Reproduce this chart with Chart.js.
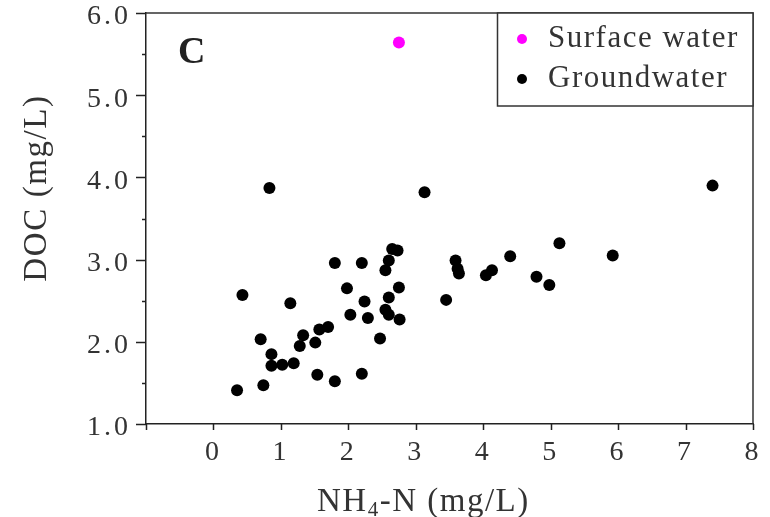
<!DOCTYPE html>
<html>
<head>
<meta charset="utf-8">
<script src="https://cdn.jsdelivr.net/npm/chart.js@4.4.1/dist/chart.umd.min.js"></script>
<style>
  html, body { margin: 0; padding: 0; background: #fff; }
  #c { display: block; }
</style>
</head>
<body>
<canvas id="c" width="770" height="517"></canvas>
<script>
// ─── DATOS ────────────────────────────────────────────────────────────────
const surfaceNH4 = [2.75];
const surfaceDOC = [5.64];

const groundNH4 = [
  0.83, 3.13, 0.43, 1.14, 1.80, 2.20, 2.65, 2.73, 2.60, 2.55,
  1.98, 2.75, 2.24, 2.60, 3.45, 2.03, 2.29, 2.55, 2.60, 2.76,
  1.70, 1.57, 1.33, 1.28, 1.51, 0.70, 2.47, 0.86, 0.86, 1.02,
  1.19, 1.54, 2.20, 1.80, 0.74, 0.35, 7.40, 5.13, 5.92, 4.40,
  3.59, 3.62, 3.64, 4.04, 4.13, 4.79, 4.98
];
const groundDOC = [
  3.87, 3.82, 2.57, 2.47, 2.96, 2.96, 3.13, 3.11, 2.99, 2.87,
  2.65, 2.66, 2.49, 2.54, 2.51, 2.33, 2.29, 2.39, 2.33, 2.27,
  2.18, 2.15, 2.08, 1.95, 1.99, 2.03, 2.04, 1.85, 1.71, 1.72,
  1.74, 1.60, 1.61, 1.52, 1.47, 1.41, 3.90, 3.20, 3.05, 3.04,
  2.99, 2.89, 2.83, 2.81, 2.87, 2.79, 2.69
];

const xTicks = [0, 1, 2, 3, 4, 5, 6, 7, 8];
const yTicks = ["1.0", "2.0", "3.0", "4.0", "5.0", "6.0"];

const seriesNames = ["Surface water", "Groundwater"];
const seriesColors = ["#ff00ff", "#000000"];

const toPoints = (xs, ys) => xs.map((x, i) => ({ x, y: ys[i] }));

const SERIF = '"Liberation Serif", "Times New Roman", serif';
const TEXT = "#333333";

// ─── DECORACIÓN: marco, marcas, títulos, leyenda ─────────────────────────
const decor = {
  id: "decor",
  beforeDraw(chart) {
    chart.ctx.letterSpacing = "3px";
  },
  afterDraw(chart) {
    const ctx = chart.ctx;
    const { left, right, top, bottom } = chart.chartArea;
    const sx = chart.scales.x, sy = chart.scales.y;
    ctx.save();
    ctx.letterSpacing = "0px";

    // marco superior y derecho
    ctx.strokeStyle = "#333";
    ctx.lineWidth = 1.5;
    ctx.beginPath();
    ctx.moveTo(left, top); ctx.lineTo(right, top); ctx.lineTo(right, bottom);
    ctx.stroke();

    // marcas del eje Y (mayores y menores)
    ctx.strokeStyle = "#222";
    ctx.beginPath();
    for (let v = 1; v <= 6.001; v += 0.5) {
      const py = Math.round(sy.getPixelForValue(v)) + 0.5;
      const len = Math.abs(v - Math.round(v)) < 0.01 ? 10 : 4;
      ctx.moveTo(left, py); ctx.lineTo(left - len, py);
    }
    // marcas del eje X
    for (let v = -1; v <= 8; v++) {
      const px = Math.round(sx.getPixelForValue(v)) + 0.5;
      ctx.moveTo(px, bottom); ctx.lineTo(px, bottom + 6);
    }
    ctx.stroke();

    ctx.fillStyle = TEXT;
    ctx.textAlign = "left";
    ctx.textBaseline = "alphabetic";

    // título eje X con subíndice
    ctx.letterSpacing = "1.5px";
    let x = 317;
    const base = 511;
    ctx.font = "33px " + SERIF;
    ctx.fillText("NH", x, base); x += ctx.measureText("NH").width;
    ctx.font = "21px " + SERIF;
    ctx.fillText("4", x, base + 5); x += ctx.measureText("4").width;
    ctx.font = "33px " + SERIF;
    ctx.fillText("-N (mg/L)", x, base);

    // título eje Y
    ctx.save();
    ctx.translate(46, 188);
    ctx.rotate(-Math.PI / 2);
    ctx.textAlign = "center";
    ctx.letterSpacing = "1.6px";
    ctx.font = "33px " + SERIF;
    ctx.fillText("DOC (mg/L)", 0, 0);
    ctx.restore();

    // letra del panel
    ctx.letterSpacing = "0px";
    ctx.fillStyle = "#222";
    ctx.font = "bold 38px " + SERIF;
    ctx.fillText("C", 178, 63);

    // leyenda
    ctx.fillStyle = "#fff";
    ctx.fillRect(497, 13, 256, 93);
    ctx.strokeStyle = "#333";
    ctx.lineWidth = 1.5;
    ctx.strokeRect(497.5, 13, 255.5, 93);
    ctx.letterSpacing = "1.5px";
    ctx.font = "31px " + SERIF;
    seriesNames.forEach((name, i) => {
      const cy = 39 + i * 40;
      ctx.fillStyle = seriesColors[i];
      ctx.beginPath();
      ctx.arc(522, cy, 5, 0, Math.PI * 2);
      ctx.fill();
      ctx.fillStyle = TEXT;
      ctx.fillText(name, 548, 47 + i * 40);
    });

    ctx.restore();
  }
};

new Chart(document.getElementById("c"), {
  type: "scatter",
  data: {
    datasets: [
      {
        label: seriesNames[1],
        data: toPoints(groundNH4, groundDOC),
        backgroundColor: seriesColors[1],
        borderColor: seriesColors[1],
        pointRadius: 6,
        pointHoverRadius: 6,
        borderWidth: 0
      },
      {
        label: seriesNames[0],
        data: toPoints(surfaceNH4, surfaceDOC),
        backgroundColor: seriesColors[0],
        borderColor: seriesColors[0],
        pointRadius: 6,
        pointHoverRadius: 6,
        borderWidth: 0
      }
    ]
  },
  options: {
    responsive: false,
    animation: false,
    events: [],
    layout: { padding: { top: 13, right: 17, left: 0, bottom: 0 } },
    plugins: {
      legend: { display: false },
      tooltip: { enabled: false }
    },
    scales: {
      x: {
        type: "linear",
        position: "bottom",
        min: -1,
        max: 8,
        afterBuildTicks: (s) => { s.ticks = [-1, ...xTicks].map(v => ({ value: v })); },
        afterFit: (s) => { s.height = 93; s.paddingLeft = 0; s.paddingRight = 0; },
        grid: { display: false, drawTicks: false },
        border: { display: true, color: "#222", width: 1.5 },
        ticks: {
          padding: 12,
          color: TEXT,
          font: { family: SERIF, size: 28 },
          callback: (v) => xTicks.includes(v) ? String(v) : ""
        }
      },
      y: {
        type: "linear",
        position: "left",
        min: 1,
        max: 6,
        afterBuildTicks: (s) => { s.ticks = yTicks.map(t => ({ value: parseFloat(t) })); },
        afterFit: (s) => { s.width = 146; s.paddingTop = 0; s.paddingBottom = 0; },
        grid: { display: false, drawTicks: false },
        border: { display: true, color: "#222", width: 1.5 },
        ticks: {
          padding: 15,
          labelOffset: 4,
          color: TEXT,
          font: { family: SERIF, size: 28 },
          callback: (v) => yTicks.find(t => parseFloat(t) === v) || ""
        }
      }
    }
  },
  plugins: [decor]
});
</script>
</body>
</html>
